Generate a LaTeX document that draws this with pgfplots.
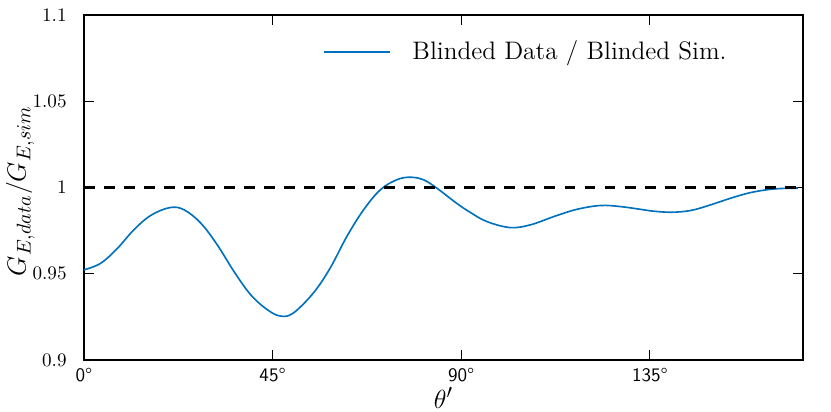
\documentclass[border=0pt]{standalone}
\usepackage{pgfplots}
\pgfplotsset{compat=1.18}
\definecolor{mblue}{RGB}{0,114,189}

\begin{document}
\begin{tikzpicture}
\begin{axis}[
  scale only axis,
  width=395pt,
  height=189.5pt,
  xmin=0, xmax=171.5,
  ymin=0.9, ymax=1.1,
  xtick={0,45,90,135},
  xticklabels={\textsf{0\textdegree},\textsf{45\textdegree},\textsf{90\textdegree},\textsf{135\textdegree}},
  ytick={0.9,0.95,1,1.05,1.1},
  yticklabels={0.9,0.95,1,1.05,1.1},
  yticklabel style={font=\fontsize{10.5}{12}\selectfont, xshift=-6pt},
  xticklabel style={font=\fontsize{10.5}{12}\selectfont, yshift=-1pt},
  tick align=inside,
  major tick length=5.5pt,
  tick style={black, line width=0.6pt},
  axis line style={line width=0.8pt},
  xlabel={$\theta'$},
  ylabel={$G_{E,data}/G_{E,sim}$},
  xlabel style={font=\fontsize{15.5}{18}\selectfont, at={(axis description cs:0.5,0)}, anchor=center, yshift=-21pt},
  ylabel style={font=\fontsize{15}{18}\selectfont, at={(axis description cs:0,0.5)}, anchor=center, yshift=35pt, xshift=-2pt},
  legend style={draw=none, fill=none, at={(0.907,0.893)}, anchor=east, font=\fontsize{13.9}{16}\selectfont},
  legend cell align=left,
  legend image code/.code={\draw[#1] (0pt,0pt) -- (36pt,0pt); \path (46pt,0pt);},
]
\addplot[mblue, line width=0.9pt, smooth, tension=0.6] coordinates {
  (0,0.9522) (4.0,0.9560) (8.0,0.9647) (11.9,0.9754) (15.9,0.9837)
  (20.5,0.9883) (23.9,0.9870) (27.9,0.9792) (31.8,0.9667) (35.8,0.9512)
  (39.8,0.9377) (43.8,0.9290) (46.9,0.9254) (49.9,0.9271) (54.7,0.9387)
  (58.7,0.9531) (62.7,0.9715) (66.7,0.9870) (70.7,0.9986) (74.6,1.0044)
  (77.8,1.0059) (81.0,1.0044) (84.2,0.9995) (88.9,0.9908) (92.1,0.9856)
  (96.1,0.9802) (101.7,0.9767) (106.5,0.9783) (112.1,0.9831) (117.6,0.9873)
  (123.2,0.9895) (127.9,0.9889) (132.7,0.9873) (135.1,0.9864) (139.9,0.9856)
  (144.7,0.9866) (149.5,0.9899) (154.2,0.9937) (159.0,0.9970) (163.8,0.9989)
  (167.8,0.9995) (170.3,0.9995)
};
\addlegendentry{Blinded Data / Blinded Sim.}
\addplot[black, line width=1.4pt, dash pattern=on 6pt off 5pt, forget plot] coordinates {(0,1) (171.5,1)};
\coordinate (ll) at (rel axis cs:0,0);
\coordinate (ur) at (rel axis cs:1,1);
\end{axis}
\pgfresetboundingbox
\path ([shift={(-46.1pt,-28.6pt)}]ll) rectangle ([shift={(15.4pt,8.2pt)}]ur);
\end{tikzpicture}
\end{document}
